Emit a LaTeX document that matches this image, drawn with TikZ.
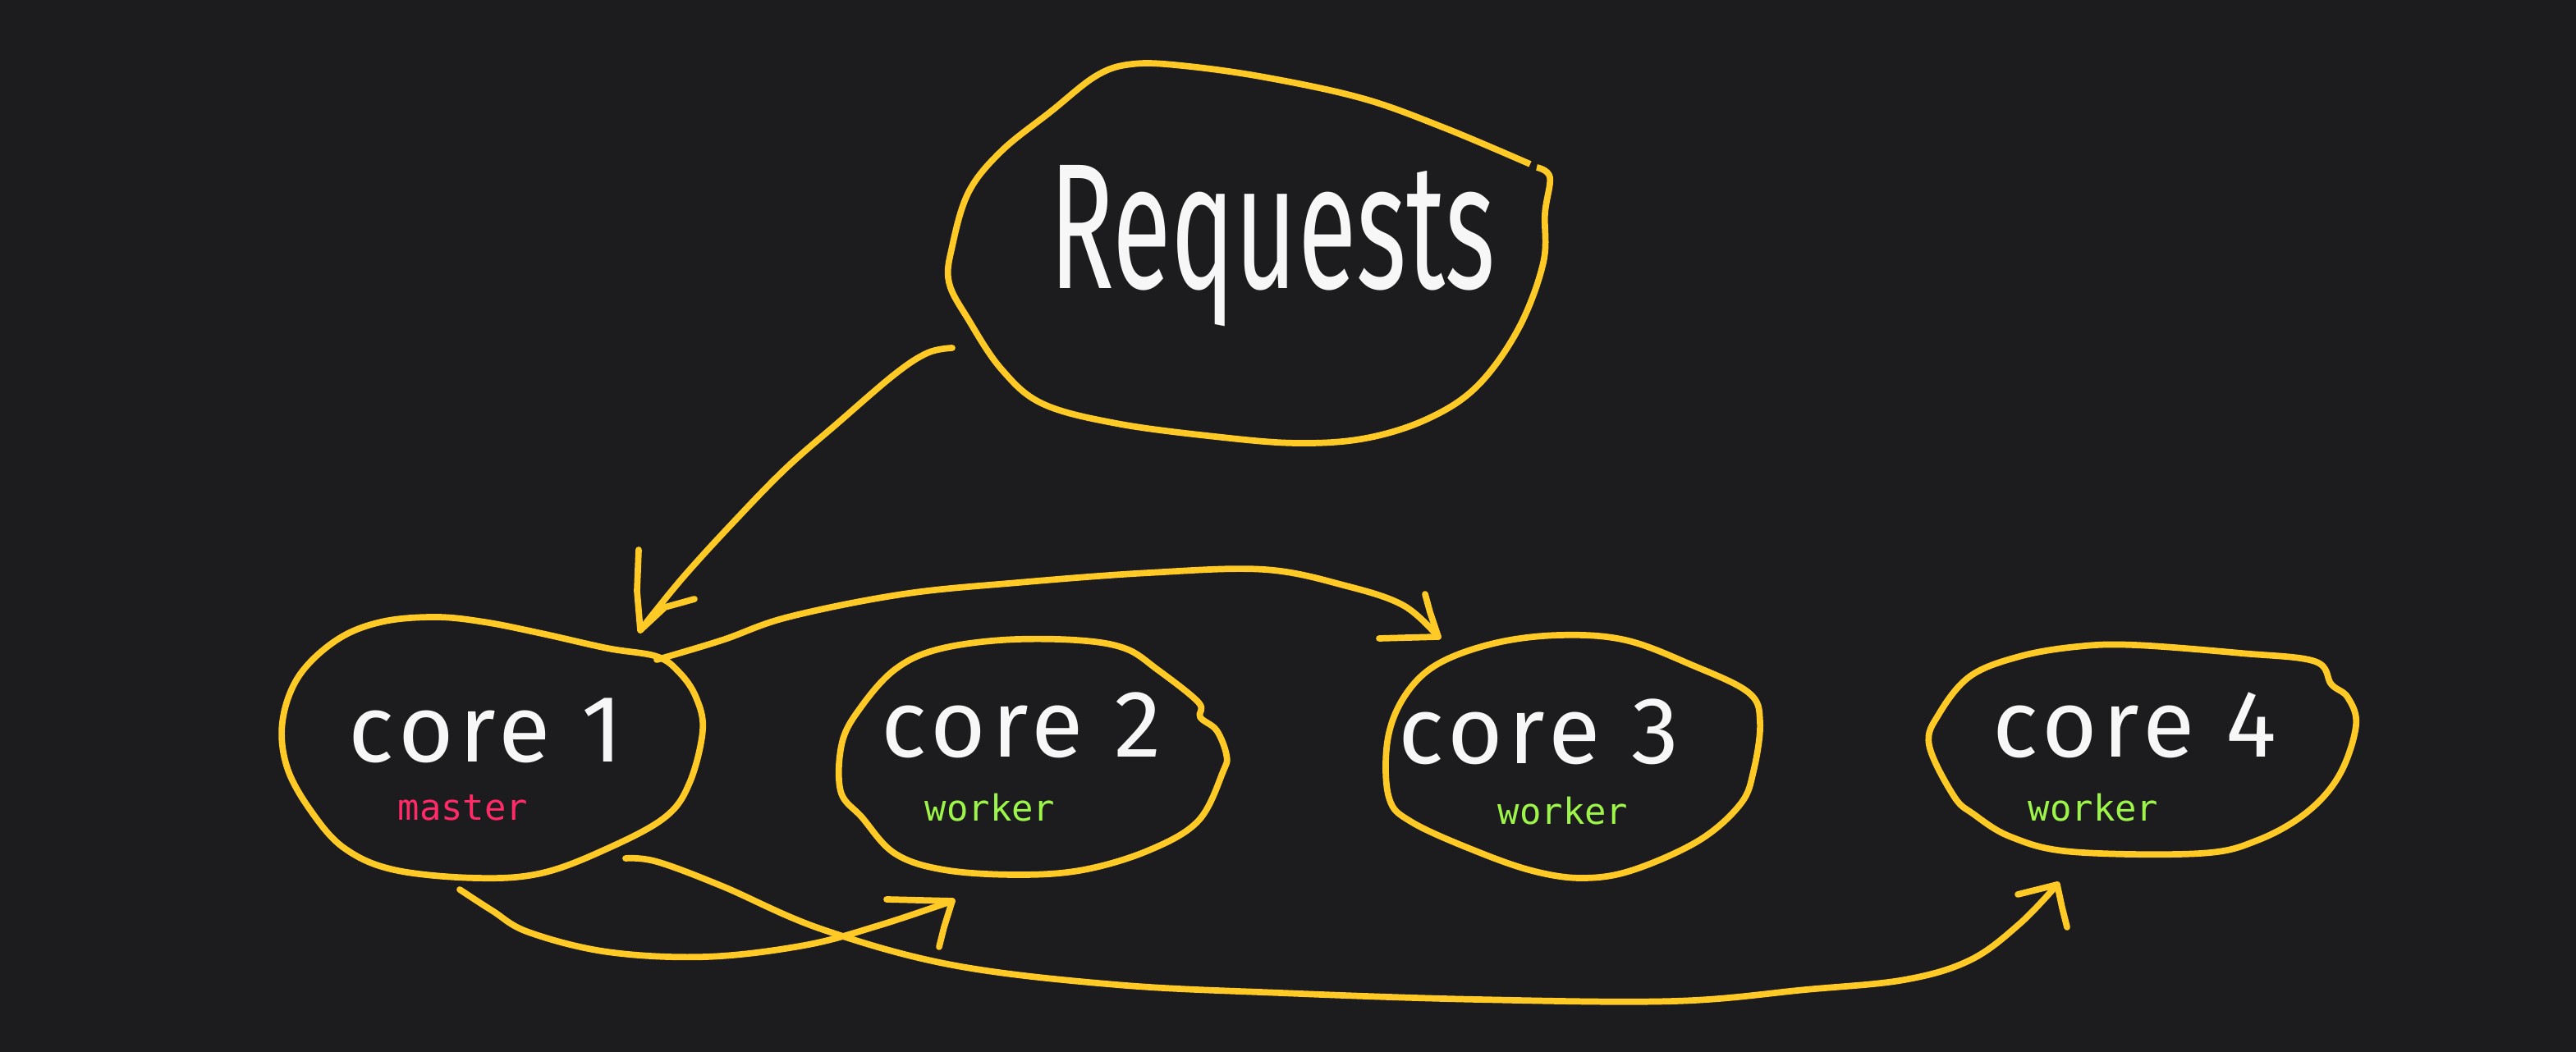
\documentclass[tikz,border=0pt]{standalone}
\usepackage{fontspec}
\newfontfamily\handfont[LetterSpace=6]{Fira Sans}
\newfontfamily\reqfont[FakeStretch=0.6]{Fira Sans}
\newfontfamily\tagfont{DejaVu Sans Mono}
\definecolor{board}{HTML}{1C1C1E}
\definecolor{marker}{HTML}{FFC926}
\definecolor{chalk}{HTML}{F7F7F7}
\definecolor{masterpink}{HTML}{FF2A68}
\definecolor{workergreen}{HTML}{9EF54A}
\tikzset{
  blob/.style={draw=marker,line width=2.2pt,line join=round},
  wire/.style={draw=marker,line width=2.2pt,line cap=round,line join=round},
  corename/.style={text=chalk,font=\handfont\fontsize{33}{33}\selectfont,inner sep=0pt},
  role/.style={font=\tagfont\fontsize{12.5}{12.5}\selectfont,inner sep=0pt}
}

\begin{document}
\begin{tikzpicture}[x=0.02cm,y=-0.02cm]
  \fill[board] (0,0) rectangle (1569,641);
  \useasboundingbox (0,0) rectangle (1569,641);

  % requests bubble
  \node[text=chalk,font=\reqfont\fontsize{62}{62}\selectfont,inner sep=0pt] (req) at (775,150) {Requests};
  \draw[blob] plot[smooth,tension=0.6] coordinates {(932,100) (880,78) (830,60) (770,47) (720,40)
    (690,39) (668,46) (640,68) (610,92) (590,117) (580,150) (578,172) (590,195) (610,225)
    (635,246) (680,258) (740,266) (790,270) (832,267) (870,255) (900,235) (925,200)
    (940,160) (941,130) (944,108) (936,102)};

  % cores
  \node[corename] (c1) at (296,445) {core 1};
  \node[role,text=masterpink] (m1) at (282,492) {master};
  \draw[blob] plot[smooth cycle,tension=0.6] coordinates {(400,400) (370,395) (330,386) (295,379)
    (265,376) (232,379) (205,390) (182,412) (172,440) (175,468) (190,495) (210,517)
    (240,530) (290,535) (330,532) (370,517) (405,498) (420,477) (428,445) (424,425)
    (414,410)};

  \node[corename] (c2) at (622,442) {core 2};
  \node[role,text=workergreen] (w2) at (603,492) {worker};
  \draw[blob] plot[smooth cycle,tension=0.6] coordinates {(730,428) (705,408) (685,395) (655,390)
    (610,390) (570,396) (545,408) (525,430) (513,452) (512,482) (525,498) (545,520)
    (575,530) (620,533) (660,530) (700,518) (730,500) (745,470) (747,460) (741,445)
    (731,437)};

  \node[corename] (c3) at (937,446) {core 3};
  \node[role,text=workergreen] (w3) at (952,494) {worker};
  \draw[blob] plot[smooth cycle,tension=0.6] coordinates {(1065,422) (1030,405) (990,390) (950,387)
    (910,392) (875,405) (855,425) (845,452) (846,486) (860,501) (900,519) (935,531)
    (965,535) (995,530) (1035,512) (1060,490) (1068,470) (1072,440)};

  \node[corename] (c4) at (1300,442) {core 4};
  \node[role,text=workergreen] (w4) at (1275,492) {worker};
  \draw[blob] plot[smooth cycle,tension=0.6] coordinates {(1410,403) (1365,398) (1300,393) (1265,394)
    (1230,400) (1200,412) (1181,435) (1175,454) (1190,485) (1202,496) (1225,510)
    (1262,519) (1340,520) (1375,512) (1405,495) (1425,472) (1435,442) (1430,425)
    (1420,417)};

  % connectors
  \coordinate (reqout) at (580,212);
  \coordinate (c1in) at (390,384);
  \coordinate (c1east) at (400,402);
  \coordinate (c3in) at (876,388);
  \coordinate (c1south) at (280,542);
  \coordinate (c2in) at (580,549);
  \coordinate (c1foot) at (381,523);
  \coordinate (c4in) at (1253,539);

  \draw[wire] plot[smooth,tension=0.6] coordinates {(reqout) (565,215) (545,228) (510,258)
    (478,286) (445,320) (415,353) (c1in)};
  \draw[wire] (c1in) -- (388,360) -- (389,335) (c1in) -- (405,370) -- (423,365);

  \draw[wire] plot[smooth,tension=0.6] coordinates {(c1east) (440,390) (480,376) (550,362)
    (620,355) (700,349) (770,347) (820,357) (855,369) (c3in)};
  \draw[wire] (c3in) -- (871,373) -- (868,362) (c3in) -- (840,389);

  \draw[wire] plot[smooth,tension=0.6] coordinates {(c1south) (300,555) (322,568) (370,580)
    (430,583) (490,576) (535,564) (c2in)};
  \draw[wire] (c2in) -- (540,548) (c2in) -- (575,565) -- (572,577);

  \draw[wire] plot[smooth,tension=0.6] coordinates {(c1foot) (400,525) (440,540) (500,566)
    (580,588) (680,600) (780,605) (900,609) (1020,610) (1100,603) (1160,597) (1200,585)
    (1230,563) (c4in)};
  \draw[wire] (c4in) -- (1229,545) (c4in) -- (1256,553) -- (1259,565);
\end{tikzpicture}
\end{document}
